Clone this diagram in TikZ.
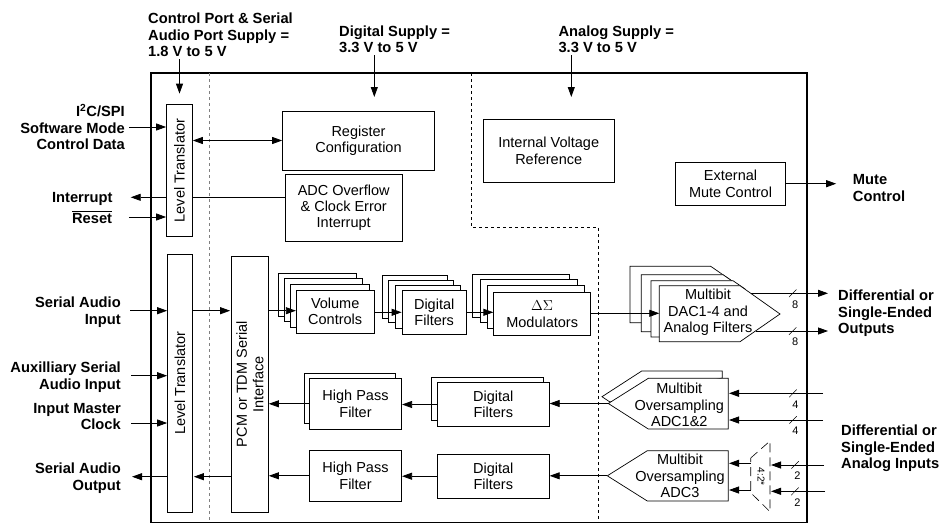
\documentclass[tikz,border=0pt]{standalone}
\usepackage{fontspec}
\setmainfont{Liberation Sans}
\usetikzlibrary{arrows.meta}

\tikzset{
    block/.style={draw, fill=white, line width=0.7pt, inner sep=0pt, align=center, font=\fontsize{14.5}{16.4}\selectfont},
    tag/.style={inner sep=0pt, text depth=0pt, font=\bfseries\fontsize{14.7}{16.5}\selectfont},
    sig/.style={line width=0.8pt, -{Triangle[length=10pt,width=7pt]}},
    duplex/.style={line width=0.8pt, {Triangle[length=10pt,width=7pt]}-{Triangle[length=10pt,width=7pt]}},
    wire/.style={line width=0.8pt},
    bus/.style={inner sep=0pt, font=\fontsize{11}{12}\selectfont}
}
% slash and width on a bus line
\newcommand{\bustick}[4]{
    \draw [line width=0.5pt] ({#2-3.7},{#3+3.8}) -- ({#2+3.7},{#3-3.8});
    \node [bus] (#1) at ({#2+2.5},{#3+11}) {#4};
}

\begin{document}
\begin{tikzpicture}[x=1pt,y=-1pt]
    \useasboundingbox (0,0) rectangle (939,525);

    % frame and supply domains
    \draw [line width=1.6pt] (151,73) rectangle (807,522.5);
    \draw [dashed, line width=0.6pt, gray] (209,73) -- (209,522);
    \draw [dashed, line width=0.6pt] (471.5,73) -- (471.5,227.5) -- (598.7,227.5) -- (598.7,522);

    % outside labels
    \node [tag, anchor=north west, align=left] (ctrlsup) at (148,13) {Control Port \& Serial\\Audio Port Supply =\\1.8 V to 5 V};
    \node [tag, anchor=north west, align=left] (digsup) at (339,25.5) {Digital Supply =\\3.3 V to 5 V};
    \node [tag, anchor=north west, align=left] (ansup) at (558.3,25.5) {Analog Supply =\\3.3 V to 5 V};
    \node [tag, anchor=east, align=right] (i2c) at (125,127) {I\textsuperscript{2}C/SPI\\Software Mode\\Control Data};
    \node [tag, anchor=east] (irq) at (112.7,197.3) {Interrupt};
    \node [tag, anchor=east] (rst) at (112.3,217) {$\overline{\mbox{Reset}}$};
    \node [tag, anchor=east, align=right] (sain) at (121,310.7) {Serial Audio\\Input};
    \node [tag, anchor=east, align=right] (auxin) at (121,375.7) {Auxilliary Serial\\Audio Input};
    \node [tag, anchor=east, align=right] (mclk) at (121,416.5) {Input Master\\Clock};
    \node [tag, anchor=east, align=right] (saout) at (121,476.7) {Serial Audio\\Output};
    \node [tag, anchor=west, align=left] (mute) at (852.7,188) {Mute\\Control};
    \node [tag, anchor=west, align=left] (dacout) at (838,312) {Differential or\\Single-Ended\\Outputs};
    \node [tag, anchor=west, align=left] (adcin) at (841,447) {Differential or\\Single-Ended\\Analog Inputs};
    \coordinate (mclkpin) at (121,423);

    % control side
    \node [block, minimum width=26, minimum height=132] (ltA) at (179.5,170.5) {\rotatebox{90}{Level Translator}};
    \node [block, minimum width=152, minimum height=59] (regcfg) at (358.5,140.5) {Register\\Configuration};
    \node [block, minimum width=116.5, minimum height=66.5] (adcovf) at (343.7,207.7) {ADC Overflow\\\& Clock Error\\Interrupt};
    \node [block, minimum width=131.5, minimum height=62.5] (vref) at (548.7,150.7) {Internal Voltage\\Reference};
    \node [block, minimum width=110, minimum height=42.5] (extmute) at (730.5,183.7) {External\\Mute Control};

    % audio side
    \node [block, minimum width=25, minimum height=257.5] (ltB) at (180,383.2) {\rotatebox{90}{Level Translator}};
    \node [block, minimum width=37, minimum height=255.5] (pcm) at (250,384.2) {\rotatebox{90}{\parbox{150pt}{\centering PCM or TDM Serial\\Interface}}};

    % volume controls
    \node [block, minimum width=78.5, minimum height=42.5] (volD) at (317.5,294.7) {};
    \node [block, minimum width=78.5, minimum height=43] (volC) at (323.5,299.5) {};
    \node [block, minimum width=78.5, minimum height=43] (volB) at (330,305.5) {};
    \node [block, minimum width=78, minimum height=43] (vol) at (335.2,311.5) {Volume\\Controls};

    % digital filters, playback
    \node [block, minimum width=65, minimum height=43] (dfD) at (414.5,296.5) {};
    \node [block, minimum width=65, minimum height=42] (dfC) at (421.3,301.7) {};
    \node [block, minimum width=65.5, minimum height=43.5] (dfB) at (428,307) {};
    \node [block, minimum width=64.5, minimum height=44] (df) at (434.2,312.3) {Digital\\Filters};

    % modulators
    \node [block, minimum width=97, minimum height=43] (modD) at (521.2,295.5) {};
    \node [block, minimum width=97.4, minimum height=42.7] (modC) at (529,300.7) {};
    \node [block, minimum width=97.4, minimum height=43] (modB) at (536,306.5) {};
    \node [block, minimum width=97, minimum height=43.4] (mod) at (542.2,314) {$\Delta\Sigma$\\Modulators};

    % DAC stack
    \draw [block] (630,266.3) -- (710.7,266.3) -- (745,290) -- (745,322.7) -- (630,322.7) -- cycle;
    \draw [block] (641.3,274.7) -- (723,274.7) -- (745,290) -- (745,331.7) -- (641.3,331.7) -- cycle;
    \draw [block] (651,280.7) -- (733,280.7) -- (745,289) -- (745,337) -- (651,337) -- cycle;
    \draw [block] (659.3,285.7) -- (740,285.7) -- (780,314) -- (740,341.7) -- (659.3,341.7) -- cycle;
    \node [align=center, inner sep=0pt, font=\fontsize{14.5}{16.4}\selectfont] (dac) at (708,312.5) {Multibit\\DAC1-4 and\\Analog Filters};
    \coordinate (dacin) at (659.3,313.3);
    \coordinate (dacoutA) at (750.7,293.3);
    \coordinate (dacoutB) at (755.5,331);
    \coordinate (dacendA) at (828,293.3);
    \coordinate (dacendB) at (828,331);

    % record path, upper row
    \draw [block] (722.3,378) -- (722.3,371) -- (641.7,371) -- (602,396.7) -- (610,402) -- cycle;
    \draw [block] (728.3,378.3) -- (648.3,378.3) -- (608.3,403.5) -- (648.3,429) -- (728.3,429) -- cycle;
    \node [align=center, inner sep=0pt, font=\fontsize{14.5}{16.4}\selectfont] (adcA) at (679.3,405) {Multibit\\Oversampling\\ADC1\&2};
    \coordinate (adcAout) at (608.3,403.5);
    \node [block, minimum width=112, minimum height=43.4] (dfrecB) at (487.3,399) {};
    \node [block, minimum width=112, minimum height=44.4] (dfrec) at (493.3,404.5) {Digital\\Filters};
    \node [block, minimum width=91.7, minimum height=50] (hpfB) at (349.8,398.3) {};
    \node [block, minimum width=92.4, minimum height=51] (hpf) at (355.5,403.8) {High Pass\\Filter};

    % record path, lower row
    \draw [block] (728.3,450.7) -- (647.3,450.7) -- (607.3,475.8) -- (647.3,501) -- (728.3,501) -- cycle;
    \node [align=center, inner sep=0pt, font=\fontsize{14.5}{16.4}\selectfont] (adcC) at (680,476) {Multibit\\Oversampling\\ADC3};
    \coordinate (adcCout) at (607.3,475.8);
    \node [block, minimum width=112, minimum height=44.4] (dfthree) at (493.3,476.2) {Digital\\Filters};
    \node [block, minimum width=92.4, minimum height=50.3] (hpfthree) at (355.5,475.8) {High Pass\\Filter};

    % 4:2 mux
    \draw [dash pattern=on 9pt off 5pt, line width=0.6pt] (750.7,458) -- (770,441) -- (770,511.7) -- (750.7,492.7) -- cycle;
    \node [inner sep=0pt, rotate=-90, font=\fontsize{10}{12}\selectfont] (muxtag) at (761,476.7) {4:2*};

    % bus ends
    \coordinate (adcAinA) at (729,393.3);
    \coordinate (adcAinB) at (729,420);
    \coordinate (adcCinA) at (729,463.3);
    \coordinate (adcCinB) at (729,490);
    \coordinate (muxoutA) at (750.7,463.3);
    \coordinate (muxoutB) at (750.7,490);
    \coordinate (muxinA) at (771,465);
    \coordinate (muxinB) at (771,491.3);
    \coordinate (anainA) at (823,393.3);
    \coordinate (anainB) at (823,420);
    \coordinate (anainC) at (824,465);
    \coordinate (anainD) at (825,491.3);
    \coordinate (digtip) at (374.3,97);
    \coordinate (antip) at (571.3,97);

    % supplies
    \draw [sig, shorten >=10.5pt, shorten <=2pt] (ctrlsup.south -| ltA.north) -- (ltA.north);
    \draw [sig, shorten <=2pt] (digsup.south -| digtip) -- (digtip);
    \draw [sig, shorten <=2pt] (ansup.south -| antip) -- (antip);

    % control signals
    \draw [sig, shorten <=4pt] (i2c.east) -- (ltA.west |- i2c.east);
    \draw [duplex] (ltA.east |- regcfg.west) -- (regcfg.west);
    \draw [wire] (adcovf.west |- irq.east) -- (ltA.east |- irq.east);
    \draw [sig, shorten >=18pt] (ltA.west |- irq.east) -- (irq.east);
    \draw [sig, shorten <=16.5pt] (rst.east) -- (ltA.west |- rst.east);
    \draw [sig, shorten >=16.5pt] (extmute.east) -- (mute.west |- extmute.east);

    % playback path
    \draw [sig, shorten <=9pt] (sain.east) -- (ltB.west |- sain.east);
    \draw [sig, shorten <=10pt] (auxin.east) -- (ltB.west |- auxin.east);
    \draw [sig, shorten <=10pt] (mclkpin) -- (ltB.west |- mclkpin);
    \draw [sig, shorten >=1pt] (ltB.east |- sain.east) -- (pcm.west |- sain.east);
    \draw [sig] (pcm.east |- sain.east) -- (vol.west |- sain.east);
    \draw [sig] (vol.east |- df.west) -- (df.west);
    \draw [sig] (df.east) -- (mod.west |- df.east);
    \draw [sig] (mod.east |- dacin) -- (dacin);
    \draw [sig] (dacoutA) -- (dacendA);
    \draw [sig] (dacoutB) -- (dacendB);
    \bustick{busA}{792.7}{293.3}{8}
    \bustick{busB}{792.7}{331}{8}

    % record path
    \draw [sig] (anainA) -- (adcAinA);
    \draw [sig] (anainB) -- (adcAinB);
    \draw [sig] (anainC) -- (muxinA);
    \draw [sig] (anainD) -- (muxinB);
    \draw [sig] (muxoutA) -- (adcCinA);
    \draw [sig] (muxoutB) -- (adcCinB);
    \bustick{busC}{793}{393.3}{4}
    \bustick{busD}{793}{420}{4}
    \bustick{busE}{795}{465}{2}
    \bustick{busF}{795}{491.3}{2}
    \draw [sig] (adcAout) -- (dfrec.east |- adcAout);
    \draw [sig] (adcCout) -- (dfthree.east |- adcCout);
    \draw [sig] (dfrec.west) -- (hpf.east |- dfrec.west);
    \draw [sig] (dfthree.west) -- (hpfthree.east |- dfthree.west);
    \draw [sig] (hpf.west) -- (pcm.east |- hpf.west);
    \draw [sig] (hpfthree.west) -- (pcm.east |- hpfthree.west);
    \draw [sig, shorten >=1pt] (pcm.west |- saout.east) -- (ltB.east |- saout.east);
    \draw [sig, shorten >=11pt] (ltB.west |- saout.east) -- (saout.east);
\end{tikzpicture}
\end{document}
